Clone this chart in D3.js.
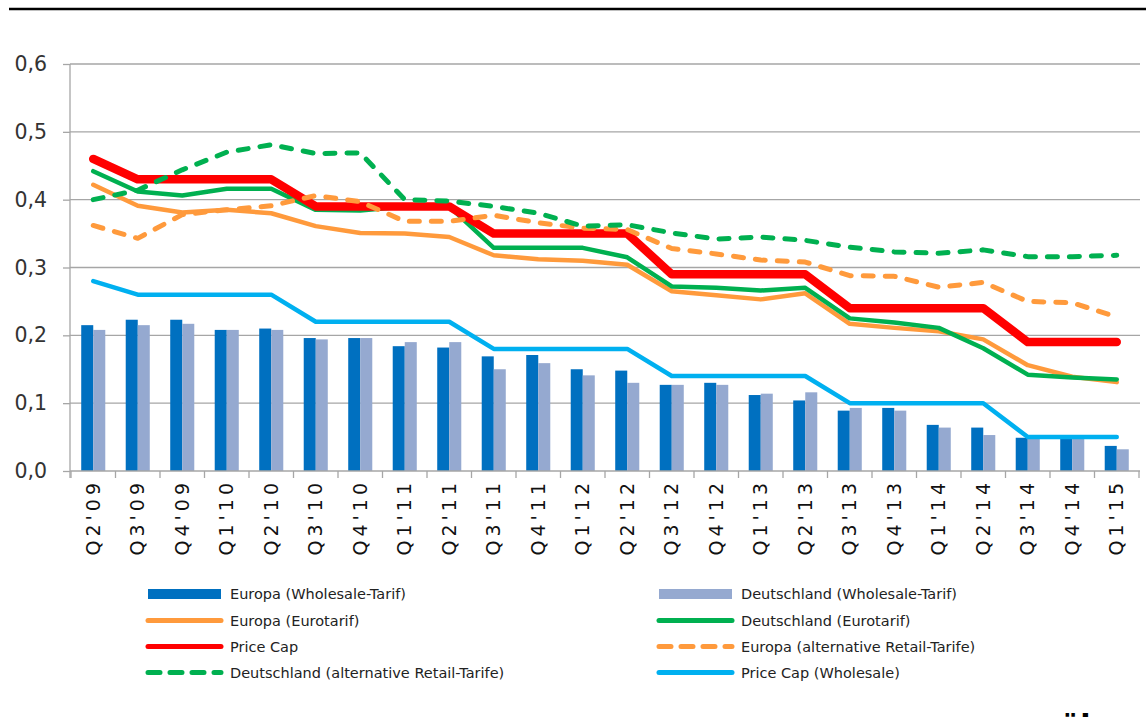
<!DOCTYPE html>
<html>
<head>
<meta charset="utf-8">
<script src="https://cdn.jsdelivr.net/npm/d3@7"></script>
<style>
  body { margin: 0; background: #fff; }
  text { font-family: "DejaVu Sans", sans-serif; }
</style>
</head>
<body>
<script>
var quarters = ["Q2'09","Q3'09","Q4'09","Q1'10","Q2'10","Q3'10","Q4'10","Q1'11","Q2'11","Q3'11","Q4'11","Q1'12",
                "Q2'12","Q3'12","Q4'12","Q1'13","Q2'13","Q3'13","Q4'13","Q1'14","Q2'14","Q3'14","Q4'14","Q1'15"];

// bars
var euWholesale = [0.215,0.223,0.223,0.208,0.210,0.196,0.196,0.184,0.182,0.169,0.171,0.150,
                   0.148,0.127,0.130,0.112,0.104,0.089,0.093,0.068,0.064,0.049,0.048,0.037];
var deWholesale = [0.208,0.215,0.217,0.208,0.208,0.194,0.196,0.190,0.190,0.150,0.159,0.141,
                   0.130,0.127,0.127,0.114,0.116,0.093,0.089,0.064,0.053,0.048,0.048,0.032];

// lines
var euEurotarif = [0.422,0.391,0.381,0.385,0.380,0.361,0.351,0.350,0.345,0.318,0.312,0.310,
                   0.304,0.265,0.259,0.253,0.262,0.217,0.211,0.206,0.194,0.156,0.139,0.131];
var deEurotarif = [0.442,0.412,0.406,0.416,0.416,0.385,0.384,0.390,0.390,0.329,0.329,0.329,
                   0.315,0.272,0.270,0.266,0.270,0.225,0.219,0.211,0.181,0.142,0.138,0.135];
var priceCap    = [0.46,0.43,0.43,0.43,0.43,0.39,0.39,0.39,0.39,0.35,0.35,0.35,
                   0.35,0.29,0.29,0.29,0.29,0.24,0.24,0.24,0.24,0.19,0.19,0.19];
var euAlt       = [0.362,0.343,0.378,0.385,0.391,0.406,0.397,0.368,0.368,0.377,0.366,0.358,
                   0.356,0.328,0.320,0.311,0.308,0.288,0.287,0.271,0.278,0.250,0.248,0.227];
var deAlt       = [0.400,0.414,0.444,0.470,0.481,0.468,0.469,0.400,0.398,0.390,0.380,0.361,
                   0.363,0.351,0.342,0.345,0.340,0.330,0.323,0.321,0.326,0.316,0.316,0.318];
var priceCapWholesale = [0.28,0.26,0.26,0.26,0.26,0.22,0.22,0.22,0.22,0.18,0.18,0.18,
                         0.18,0.14,0.14,0.14,0.14,0.10,0.10,0.10,0.10,0.05,0.05,0.05];

var yTicks = [0, 0.1, 0.2, 0.3, 0.4, 0.5, 0.6];
var yTickLabels = ["0,0","0,1","0,2","0,3","0,4","0,5","0,6"];

var W = 1146, H = 717;
var plotLeft = 71, plotRight = 1139, plotTop = 64, plotBottom = 471;

var svg = d3.select('body').append('svg')
    .attr('width', W)
    .attr('height', H);

// top rule
svg.append('line')
    .attr('x1', 9).attr('x2', W)
    .attr('y1', 9).attr('y2', 9)
    .style('stroke', '#000').style('stroke-width', 2.5);

var xScale = d3.scaleBand()
    .domain(quarters)
    .range([plotLeft, plotRight])
    .padding(0);

var xInner = d3.scaleBand()
    .domain(['eu', 'de'])
    .range([0, xScale.bandwidth()])
    .paddingInner(0)
    .paddingOuter(0.85);

var yScale = d3.scaleLinear()
    .domain([0, 0.6])
    .range([plotBottom, plotTop]);

// gridlines
svg.append('g')
    .selectAll('line')
    .data(yTicks.slice(1))
    .enter()
    .append('line')
    .attr('x1', plotLeft - 1).attr('x2', plotRight + 1)
    .attr('y1', function(d) { return yScale(d) })
    .attr('y2', function(d) { return yScale(d) })
    .style('stroke', '#a6a6a6').style('stroke-width', 1.3);

// y axis
var yAxis = d3.axisLeft(yScale)
    .tickValues(yTicks)
    .tickSize(7)
    .tickPadding(16)
    .tickFormat(function(d, i) { return yTickLabels[i] });

var gy = svg.append('g')
    .attr('transform', 'translate(' + (plotLeft - 1) + ',0)')
    .call(yAxis);
gy.select('.domain').remove();
gy.selectAll('line').style('stroke', '#a6a6a6').style('stroke-width', 1.3);
gy.selectAll('text')
    .style('font-size', '20.5px')
    .style('fill', '#333')
    .style('font-family', '"DejaVu Sans", sans-serif');

svg.append('line')
    .attr('x1', plotLeft - 1).attr('x2', plotLeft - 1)
    .attr('y1', plotTop).attr('y2', plotBottom + 7)
    .style('stroke', '#a6a6a6').style('stroke-width', 1.3);

// bars
var groups = svg.append('g')
    .selectAll('g')
    .data(quarters)
    .enter()
    .append('g')
    .attr('transform', function(d) { return 'translate(' + xScale(d) + ',0)' });

groups.append('rect')
    .attr('x', xInner('eu'))
    .attr('width', xInner.bandwidth())
    .attr('y', function(d, i) { return yScale(euWholesale[i]) })
    .attr('height', function(d, i) { return plotBottom - yScale(euWholesale[i]) })
    .style('fill', '#0070c0');

groups.append('rect')
    .attr('x', xInner('de'))
    .attr('width', xInner.bandwidth())
    .attr('y', function(d, i) { return yScale(deWholesale[i]) })
    .attr('height', function(d, i) { return plotBottom - yScale(deWholesale[i]) })
    .style('fill', '#95a9d0');

// x axis
var xAxis = d3.axisBottom(xScale).tickSize(0).tickPadding(0);
var gx = svg.append('g')
    .attr('transform', 'translate(0,' + plotBottom + ')')
    .call(xAxis);
gx.select('.domain').remove();
gx.selectAll('text')
    .attr('transform', 'rotate(-90)')
    .attr('x', -8)
    .attr('y', 0)
    .attr('dy', '0.35em')
    .style('text-anchor', 'end')
    .style('font-size', '19px')
    .style('letter-spacing', '4px')
    .style('fill', '#111')
    .style('font-family', '"DejaVu Sans", sans-serif');

svg.append('line')
    .attr('x1', plotLeft - 1).attr('x2', plotRight + 1)
    .attr('y1', plotBottom).attr('y2', plotBottom)
    .style('stroke', '#a6a6a6').style('stroke-width', 1.3);

svg.append('g')
    .selectAll('line')
    .data(quarters.concat(['end']))
    .enter()
    .append('line')
    .attr('x1', function(d, i) { return plotLeft + i * xScale.step() })
    .attr('x2', function(d, i) { return plotLeft + i * xScale.step() })
    .attr('y1', plotBottom).attr('y2', plotBottom + 7)
    .style('stroke', '#a6a6a6').style('stroke-width', 1.3);

// lines
var series = [
    {name: 'Europa (Eurotarif)', values: euEurotarif, color: '#ff9a3c', width: 4.5, dash: null},
    {name: 'Deutschland (Eurotarif)', values: deEurotarif, color: '#00b050', width: 4.5, dash: null},
    {name: 'Price Cap', values: priceCap, color: '#ff0000', width: 8.5, dash: null},
    {name: 'Europa (alternative Retail-Tarife)', values: euAlt, color: '#ff9a3c', width: 5, dash: '10,12'},
    {name: 'Deutschland (alternative Retail-Tarife)', values: deAlt, color: '#00b050', width: 5, dash: '10,12'},
    {name: 'Price Cap (Wholesale)', values: priceCapWholesale, color: '#00b0f0', width: 4.5, dash: null}
];

var line = d3.line()
    .x(function(d, i) { return xScale(quarters[i]) + xScale.bandwidth() / 2 })
    .y(function(d) { return yScale(d) });

svg.append('g')
    .selectAll('path')
    .data(series)
    .enter()
    .append('path')
    .attr('d', function(d) { return line(d.values) })
    .style('fill', 'none')
    .style('stroke', function(d) { return d.color })
    .style('stroke-width', function(d) { return d.width })
    .style('stroke-dasharray', function(d) { return d.dash })
    .style('stroke-linecap', 'round')
    .style('stroke-linejoin', 'round');

// legend
var legendItems = [
    {label: 'Europa (Wholesale-Tarif)', type: 'bar', color: '#0070c0', col: 0, row: 0},
    {label: 'Deutschland (Wholesale-Tarif)', type: 'bar', color: '#95a9d0', col: 1, row: 0},
    {label: 'Europa (Eurotarif)', type: 'line', color: '#ff9a3c', col: 0, row: 1},
    {label: 'Deutschland (Eurotarif)', type: 'line', color: '#00b050', col: 1, row: 1},
    {label: 'Price Cap', type: 'line', color: '#ff0000', col: 0, row: 2},
    {label: 'Europa (alternative Retail-Tarife)', type: 'dash', color: '#ff9a3c', col: 1, row: 2},
    {label: 'Deutschland (alternative Retail-Tarife)', type: 'dash', color: '#00b050', col: 0, row: 3},
    {label: 'Price Cap (Wholesale)', type: 'line', color: '#00b0f0', col: 1, row: 3}
];
var colX = [147, 658];
var rowY = [594, 620.5, 646.5, 672.5];

var lg = svg.append('g')
    .selectAll('g')
    .data(legendItems)
    .enter()
    .append('g')
    .attr('transform', function(d) { return 'translate(' + colX[d.col] + ',' + rowY[d.row] + ')' });

lg.filter(function(d) { return d.type === 'bar' })
    .append('rect')
    .attr('x', 1).attr('y', -5)
    .attr('width', 73).attr('height', 10)
    .style('fill', function(d) { return d.color });

lg.filter(function(d) { return d.type !== 'bar' })
    .append('line')
    .attr('x1', 1).attr('x2', 74)
    .attr('y1', 0).attr('y2', 0)
    .style('stroke', function(d) { return d.color })
    .style('stroke-width', 5)
    .style('stroke-linecap', 'round')
    .style('stroke-dasharray', function(d) { return d.type === 'dash' ? '12,10' : null });

lg.append('text')
    .attr('x', 83)
    .attr('y', 0)
    .attr('dy', '0.35em')
    .style('font-size', '14.5px')
    .style('fill', '#222')
    .text(function(d) { return d.label });

// clipped fragment at the bottom edge
svg.append('text')
    .attr('x', 1060)
    .attr('y', 736)
    .style('font-size', '30px')
    .style('font-weight', 'bold')
    .style('fill', '#000')
    .text('äl');
</script>
</body>
</html>
